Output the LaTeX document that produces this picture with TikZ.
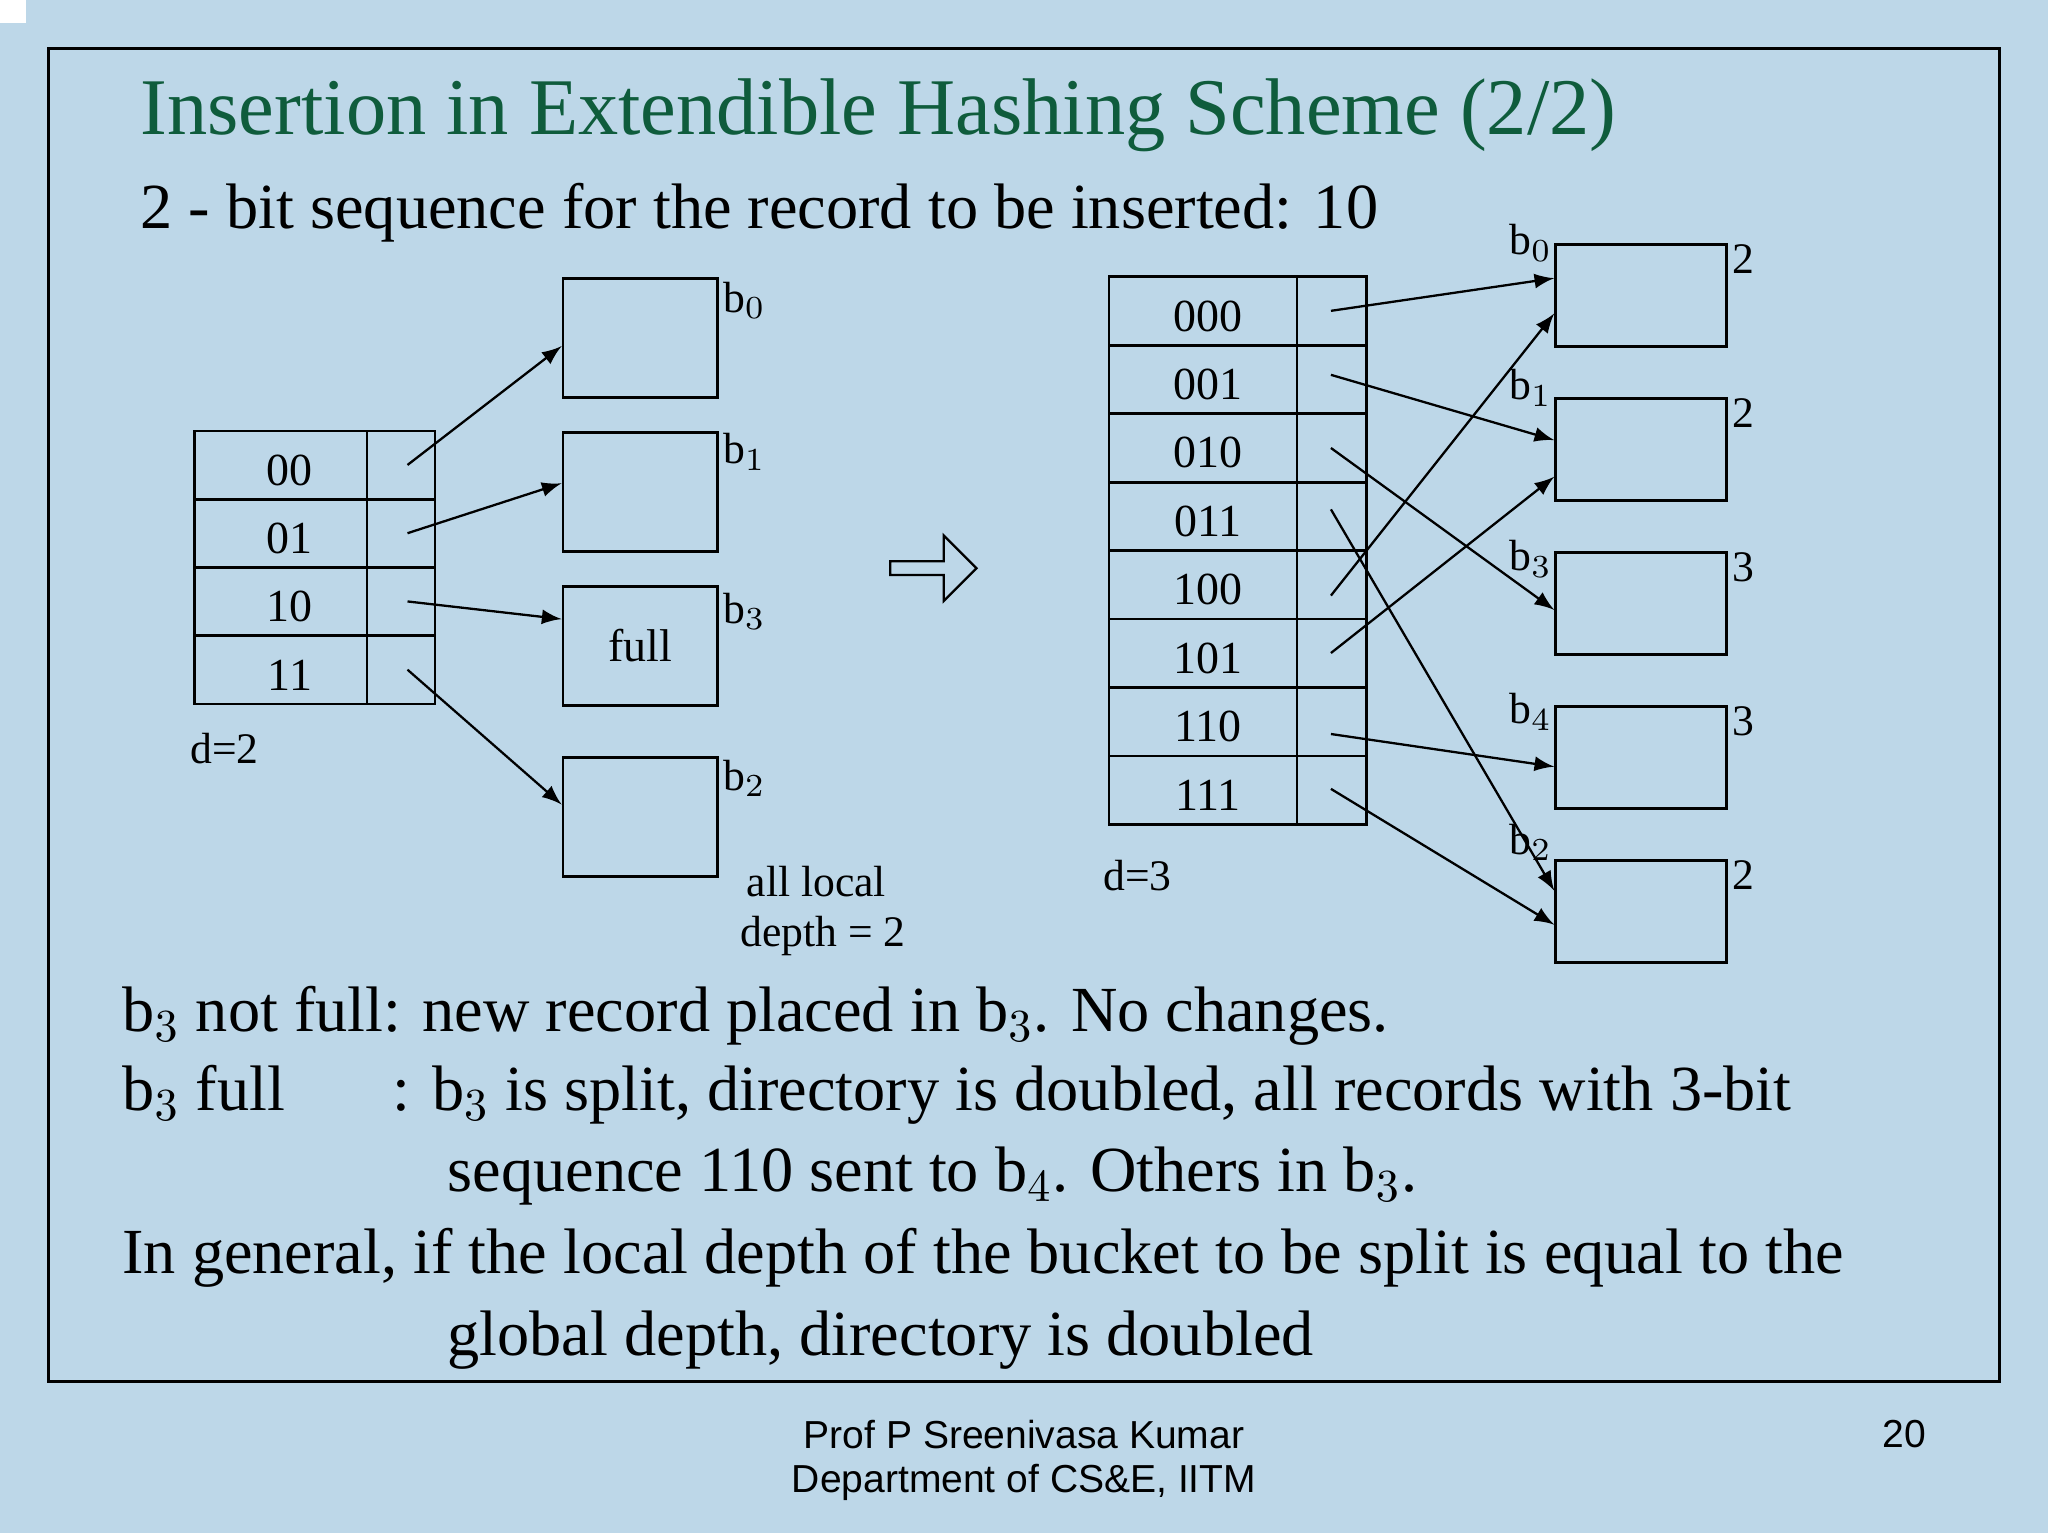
\documentclass[tikz,border=0pt]{standalone}
\usepackage{fontspec}
\setmainfont{Liberation Serif}
\newfontfamily\arial{Liberation Sans}
\usetikzlibrary{shapes.arrows}
\definecolor{bg}{HTML}{BDD7E8}
\definecolor{ttl}{HTML}{0F5C3C}
\begin{document}
\begin{tikzpicture}[x=0.01cm,y=-0.01cm,
  box/.style={draw,line width=0.6pt,inner sep=0},
  lbl/.style={inner sep=0,font=\fontsize{10}{12}\selectfont},
  sm/.style={inner sep=0,font=\fontsize{9.5}{11}\selectfont},
  big/.style={inner sep=0,anchor=base west,font=\fontsize{14}{16}\selectfont},
  arr/.style={-latex,line width=0.5pt}]
\useasboundingbox (0,0) rectangle (1568,1174);
\fill[bg] (0,0) rectangle (1568,1174);
\fill[white] (0,0) rectangle (20,18);
\draw[line width=0.7pt] (37,37) rectangle (1531,1058);
\node[inner sep=0,anchor=base west,text=ttl,font=\fontsize{17.5}{20}\selectfont] (title) at (107,103) {Insertion in Extendible Hashing Scheme (2/2)};
\node[big] (sub) at (107,175) {2 - bit sequence for the record to be inserted: 10};
% left directory
\foreach \t/\i in {00/0,01/1,10/2,11/3}{
  \draw[line width=0.6pt] (149,330+52.25*\i) rectangle (281,382.25+52.25*\i);
  \draw[line width=0.6pt] (281,330+52.25*\i) rectangle (333,382.25+52.25*\i);
  \node[lbl] (l\i) at (222,360+52.25*\i) {\t};
  \coordinate (ls\i) at (312,356+52.25*\i);
}
\node[sm] (d2) at (172,573) {d=2};
\node[box,minimum width=118\pgflinewidth,anchor=north west,minimum width=1.18cm,minimum height=0.91cm] (lb0) at (430,212) {};
\node[box,anchor=north west,minimum width=1.18cm,minimum height=0.91cm] (lb1) at (430,330) {};
\node[box,anchor=north west,minimum width=1.18cm,minimum height=0.91cm,font=\fontsize{10}{12}\selectfont] (lb3) at (430,448) {full};
\node[box,anchor=north west,minimum width=1.18cm,minimum height=0.91cm] (lb2) at (430,579) {};
\node[sm] (tb0) at (570,230) {b$_0$};
\node[sm] (tb1) at (570,346) {b$_1$};
\node[sm] (tb3) at (570,468) {b$_3$};
\node[sm] (tb2) at (570,596) {b$_2$};
\draw[arr] (ls0) -- (430,265);
\draw[arr] (ls1) -- (430,370);
\draw[arr] (ls2) -- (430,474);
\draw[arr] (ls3) -- (430,616);
\node[sm] (al) at (625,675) {all local};
\node[sm] (dp) at (630,717) {depth = 2};
\node[single arrow,draw,fill=bg,line width=0.5pt,minimum width=0.5cm,single arrow head extend=0.1cm,minimum height=0.66cm,inner sep=0.5pt] (big) at (712,435) {};
% right directory
\foreach \t/\i in {000/0,001/1,010/2,011/3,100/4,101/5,110/6,111/7}{
  \draw[line width=0.6pt] (849,212+52.4*\i) rectangle (993,264.4+52.4*\i);
  \draw[line width=0.6pt] (993,212+52.4*\i) rectangle (1046,264.4+52.4*\i);
  \node[lbl] (r\i) at (925,242+52.4*\i) {\t};
}
\node[sm] (d3) at (871,670) {d=3};
\foreach \n/\y/\d in {0/186/2,1/304/2,3/422/3,4/540/3,2/658/2}{
  \node[box,anchor=north west,minimum width=1.31cm,minimum height=0.78cm] (rb\n) at (1190,\y) {};
  \node[sm] (dd\n) at (1335,\y+12) {\d};
}
\node[sm] (sb0) at (1172,186) {b$_0$};
\node[sm] (sb1) at (1172,297) {b$_1$};
\node[sm] (sb3) at (1172,428) {b$_3$};
\node[sm] (sb4) at (1172,545) {b$_4$};
\node[sm] (sb2) at (1172,645) {b$_2$};
\coordinate (s0) at (1019,238); \coordinate (s1) at (1019,287);
\coordinate (s2) at (1019,343); \coordinate (s3) at (1019,390);
\coordinate (s4) at (1019,456); \coordinate (s5) at (1019,500);
\coordinate (s6) at (1019,562); \coordinate (s7) at (1019,604);
\draw[arr] (s0) -- (1190,213);
\draw[arr] (s1) -- (1190,337);
\draw[arr] (s2) -- (1190,467);
\draw[arr] (s3) -- (1190,682);
\draw[arr] (s4) -- (1190,240);
\draw[arr] (s5) -- (1190,365);
\draw[arr] (s6) -- (1190,587);
\draw[arr] (s7) -- (1190,708);
% bottom text
\node[big] (t1) at (93,790) {b$_3$ not full: new record placed in b$_3$. No changes.};
\node[big] (t2a) at (93,850) {b$_3$ full};
\node[big] (t2b) at (300,850) {: b$_3$ is split, directory is doubled, all records with 3-bit};
\node[big] (t3) at (342,912) {sequence 110 sent to b$_4$. Others in b$_3$.};
\node[big] (t4) at (93,975) {In general, if the local depth of the bucket to be split is equal to the};
\node[big] (t5) at (342,1038) {global depth, directory is doubled};
\node[inner sep=0,font=\arial\fontsize{8.5}{10}\selectfont] (f1) at (784,1098) {Prof P Sreenivasa Kumar};
\node[inner sep=0,font=\arial\fontsize{8.5}{10}\selectfont] (f2) at (784,1135) {Department of CS\&E, IITM};
\node[inner sep=0,font=\arial\fontsize{8.5}{10}\selectfont] (pg) at (1458,1098) {20};
\end{tikzpicture}
\end{document}
